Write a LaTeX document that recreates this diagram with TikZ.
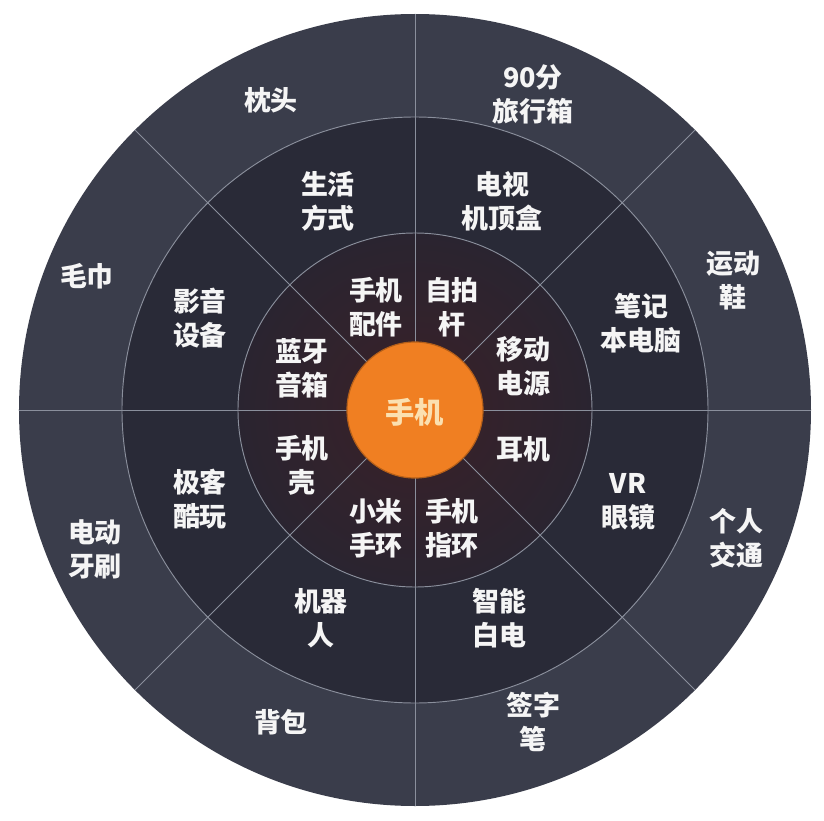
\documentclass[tikz,border=0pt]{standalone}
\usepackage{fontspec}
\newfontfamily\cjk{Noto Sans CJK SC}
\definecolor{ringout}{HTML}{3A3D4B}
\definecolor{ringmid}{HTML}{292A37}
\definecolor{ringin}{HTML}{2A2430}
\definecolor{ringglow}{HTML}{3A2128}
\definecolor{divline}{HTML}{8A8F9C}
\definecolor{phoneorange}{HTML}{F07F22}
\definecolor{phonetext}{HTML}{FBE0B0}
\tikzset{
  label/.style={text=white!92!gray, align=center, font=\cjk\bfseries\fontsize{23}{29}\selectfont},
  phone/.style={text=phonetext, font=\cjk\bfseries\fontsize{25}{30}\selectfont}
}
\begin{document}
\begin{tikzpicture}[x=0.3mm,y=0.3mm]
    \useasboundingbox (-415,-410) rectangle (409,410);

    % 三层圆环
    \fill[ringout] (0,0) circle (396); % 外环
    \fill[ringmid] (0,0) circle (293); % 中环
    \shade[inner color=ringglow, outer color=ringin] (0,0) circle (177); % 内环
    \draw[divline, line width=0.8pt] (0,0) circle (293);
    \draw[divline, line width=0.8pt] (0,0) circle (177);
    % 分隔线
    \draw[divline, line width=0.8pt] (-396,0) -- (396,0); % 横线
    \draw[divline, line width=0.8pt] (0,-396) -- (0,396); % 竖线
    \draw[divline, line width=0.8pt] (-280,-280) -- (280,280); % 斜线
    \draw[divline, line width=0.8pt] (-280,280) -- (280,-280); % 斜线
    % 中心的橙色圆
    \filldraw[fill=phoneorange, draw=phoneorange!75!black, line width=1pt] (0,0) circle (68);
    \node[phone] (phone) at (0,-2) {手机};

    % 内环文字
    \node[label] (peijian) at (-39,103) {手机\\配件};
    \node[label] (zipai) at (37,103) {自拍\\杆};
    \node[label] (dianyuan) at (108,44) {移动\\电源};
    \node[label] (erji) at (108,-39) {耳机};
    \node[label] (zhihuan) at (37,-118) {手机\\指环};
    \node[label] (shouhuan) at (-39,-118) {小米\\手环};
    \node[label] (ke) at (-113,-55) {手机\\壳};
    \node[label] (yinxiang) at (-113,42) {蓝牙\\音箱};

    % 中环文字
    \node[label] (shenghuo) at (-87,209) {生活\\方式};
    \node[label] (dianshi) at (87,209) {电视\\机顶盒};
    \node[label] (diannao) at (226,87) {笔记\\本电脑};
    \node[label] (vr) at (213,-92) {VR\\眼镜};
    \node[label] (baidian) at (84,-208) {智能\\白电};
    \node[label] (jiqiren) at (-94,-208) {机器\\人};
    \node[label] (kuwan) at (-215,-89) {极客\\酷玩};
    \node[label] (yingyin) at (-215,92) {影音\\设备};

    % 外环文字
    \node[label] (zhentou) at (-144,310) {枕头};
    \node[label] (xiang) at (118,316) {90分\\旅行箱};
    \node[label] (xie) at (318,129) {运动\\鞋};
    \node[label] (jiaotong) at (321,-128) {个人\\交通};
    \node[label] (bi) at (118,-312) {签字\\笔};
    \node[label] (beibao) at (-134,-312) {背包};
    \node[label] (yashua) at (-320,-139) {电动\\牙刷};
    \node[label] (maojin) at (-328,134) {毛巾};
\end{tikzpicture}
\end{document}
